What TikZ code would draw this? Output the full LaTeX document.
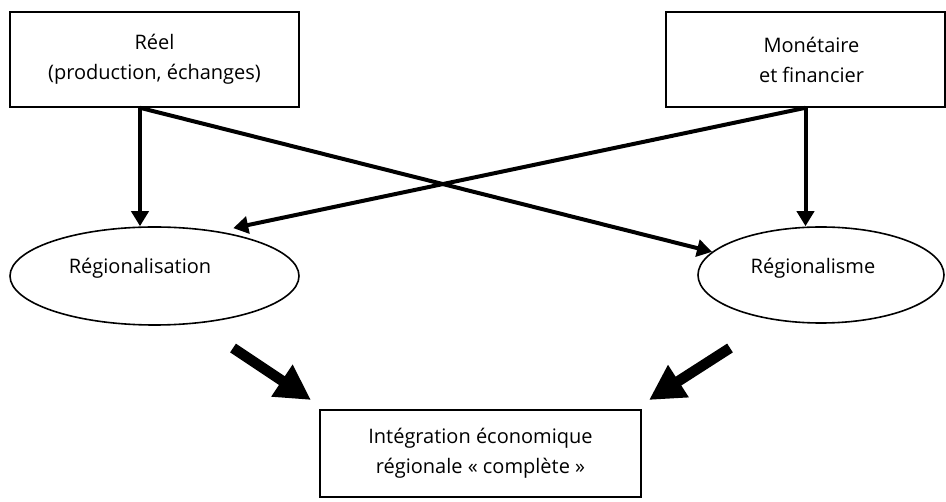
\documentclass[tikz,border=0pt]{standalone}
\usepackage{fontspec}
\setmainfont{Open Sans}
\usetikzlibrary{arrows.meta,shapes.geometric}
\begin{document}
\begin{tikzpicture}[x=1pt,y=-1pt,
  every node/.style={font=\fontsize{20}{30}\selectfont},
  box/.style={draw,line width=1.6pt,inner sep=0pt,align=center},
  oval/.style={draw,ellipse,line width=1.6pt,inner sep=0pt},
  conn/.style={line width=4pt,-{Triangle[length=15pt,width=17pt]}},
  big/.style={line width=10.5pt,-{Triangle[length=35pt,width=36pt]}}]
\useasboundingbox (0,0) rectangle (946,502);
\node[box,minimum width=289pt,minimum height=95pt] (r) at (154.5,59.5) {Réel\\(production, échanges)};
\node[box,minimum width=279pt,minimum height=95pt,
  label={[name=mt,align=center,xshift=6pt]center:Monétaire\\et financier}] (m) at (805.5,59.5) {};
\node[oval,minimum width=289pt,minimum height=98pt,
  label={[name=reg1t,xshift=-14.5pt,yshift=8pt]center:Régionalisation}] (reg1) at (154.5,276) {};
\node[oval,minimum width=246pt,minimum height=96pt,
  label={[name=reg2t,xshift=-8pt,yshift=7pt]center:Régionalisme}] (reg2) at (821,275) {};
\node[box,minimum width=321pt,minimum height=87pt] (integ) at (480.5,453.5) {Intégration économique\\régionale « complète »};
\draw[conn] ([xshift=-14.5pt]r.south) -- ([xshift=-14.5pt]r.south |- reg1.north);
\draw[conn] ([xshift=-14.5pt]r.south) -- (reg2.168);
\draw[conn] (m.south) -- ([yshift=6pt]reg1.28);
\draw[conn] (m.south) -- (m.south |- reg2.north);
\coordinate (b1s) at (233,348);
\coordinate (b1e) at (311,400);
\coordinate (b2s) at (730,348);
\coordinate (b2e) at (649,400);
\draw[big] (b1s) -- (b1e);
\draw[big] (b2s) -- (b2e);
\end{tikzpicture}
\end{document}
